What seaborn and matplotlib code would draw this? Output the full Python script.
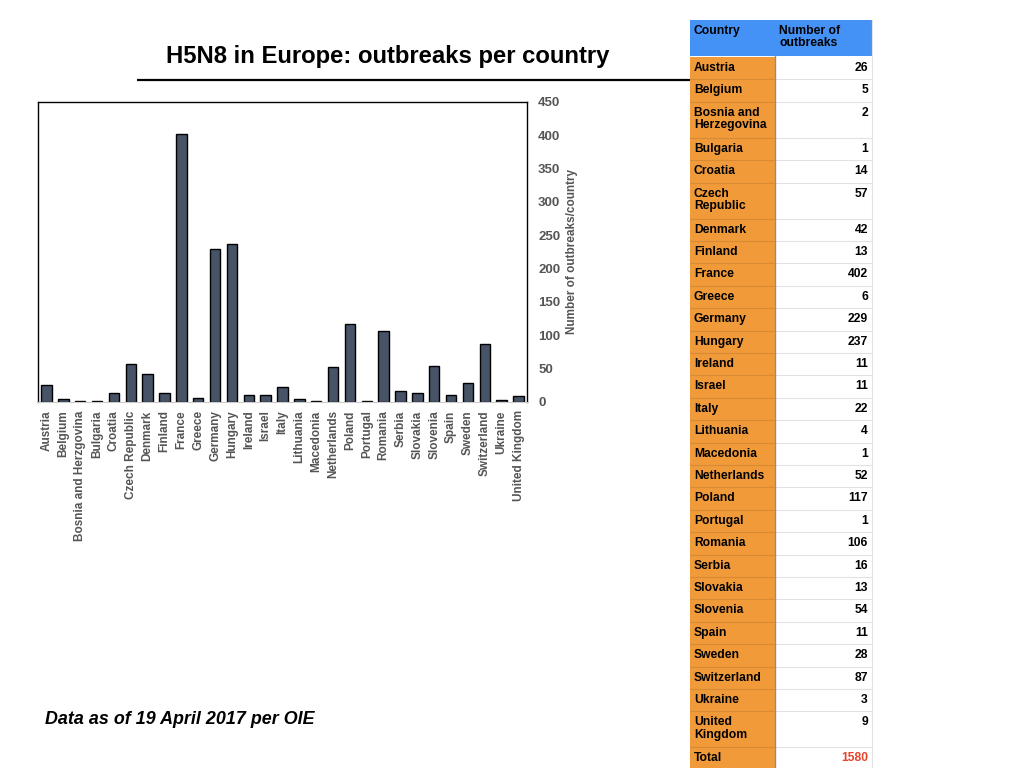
import matplotlib
matplotlib.use("Agg")
import matplotlib.pyplot as plt
from matplotlib.patches import Rectangle
import pandas as pd
import seaborn as sns

# chart data
chart_countries = ["Austria", "Belgium", "Bosnia and Herzgovina", "Bulgaria", "Croatia",
                   "Czech Republic", "Denmark", "Finland", "France", "Greece", "Germany",
                   "Hungary", "Ireland", "Israel", "Italy", "Lithuania", "Macedonia",
                   "Netherlands", "Poland", "Portugal", "Romania", "Serbia", "Slovakia",
                   "Slovenia", "Spain", "Sweden", "Switzerland", "Ukraine", "United Kingdom"]
outbreaks = [26, 5, 2, 1, 14, 57, 42, 13, 402, 6, 229, 237, 11, 11, 22, 4, 1,
             52, 117, 1, 106, 16, 13, 54, 11, 28, 87, 3, 9]
y_ticks = [0, 50, 100, 150, 200, 250, 300, 350, 400, 450]

# table labels (wrapped as in the source table)
table_names = ["Austria", "Belgium", "Bosnia and\nHerzegovina", "Bulgaria", "Croatia",
               "Czech\nRepublic", "Denmark", "Finland", "France", "Greece", "Germany",
               "Hungary", "Ireland", "Israel", "Italy", "Lithuania", "Macedonia",
               "Netherlands", "Poland", "Portugal", "Romania", "Serbia", "Slovakia",
               "Slovenia", "Spain", "Sweden", "Switzerland", "Ukraine", "United\nKingdom"]
total_label = "Total"
total_value = sum(outbreaks)

TITLE = "H5N8 in Europe: outbreaks per country"
FOOTNOTE = "Data as of 19 April 2017 per OIE"
YLABEL = "Number of outbreaks/country"

BAR_COLOR = "#475367"
GREY_TEXT = "#555555"
BLUE = "#4592f6"
ORANGE = "#f09a3a"

sns.set_style("white")
plt.rcParams["font.family"] = ["Liberation Sans", "DejaVu Sans"]
plt.rcParams["text.color"] = "black"

W, H = 1024, 768
fig = plt.figure(figsize=(W / 100, H / 100), dpi=100)

# background canvas in pixel coords for title, rule, table, footnote
bg = fig.add_axes([0, 0, 1, 1], zorder=0)
bg.set_xlim(0, W)
bg.set_ylim(H, 0)
bg.axis("off")

bg.text(388, 56, TITLE, ha="center", va="center", fontsize=17.2, fontweight="bold")
bg.plot([137, 690], [80, 80], color="black", lw=1.6, solid_capstyle="butt")
bg.text(45, 720, FOOTNOTE, ha="left", va="center", fontsize=12.9,
        fontweight="bold", fontstyle="italic")

# table
x0, x1, x2 = 690, 775, 872
FS = 8.7
bg.add_patch(Rectangle((x0, 20), x2 - x0, 36, color=BLUE, lw=0))
bg.text(x0 + 4, 25, "Country", ha="left", va="top", fontsize=FS, fontweight="bold")
bg.text(x1 + 4, 25, "Number of\noutbreaks", ha="left", va="top", fontsize=FS,
        fontweight="bold", linespacing=1.05, multialignment="left")

rows = list(zip(table_names, outbreaks)) + [(total_label, total_value)]
y = 57
for name, val in rows:
    h = 36 if "\n" in name else 22.4
    bg.add_patch(Rectangle((x0, y), x1 - x0, h, color=ORANGE, lw=0))
    bg.plot([x0, x1], [y + h, y + h], color="#d98a34", lw=0.8)
    bg.plot([x1, x2], [y + h, y + h], color="#e2e2e2", lw=0.8)
    bg.text(x0 + 4, y + 5, name, ha="left", va="top", fontsize=FS, fontweight="bold",
            linespacing=1.05, multialignment="left")
    color = "#e8432c" if name == total_label else "black"
    bg.text(x2 - 4, y + 5, str(val), ha="right", va="top", fontsize=FS,
            fontweight="bold", color=color)
    y += h
bg.plot([x1, x1], [56, H], color="#9a8a7a", lw=1)
bg.plot([x2, x2], [20, H], color="#e2e2e2", lw=0.8)

# bar chart
ax = fig.add_axes([38 / W, (H - 402) / H, (527 - 38) / W, 300 / H], zorder=1)
ax.patch.set_alpha(0)
df = pd.DataFrame({"country": chart_countries, "outbreaks": outbreaks})
sns.barplot(data=df, x="country", y="outbreaks", color=BAR_COLOR, saturation=1,
            edgecolor="black", linewidth=1, width=0.62, ax=ax)

ax.set_xlim(-0.5, len(chart_countries) - 0.5)
ax.set_ylim(0, 450)
ax.set_yticks(y_ticks)
ax.yaxis.tick_right()
ax.yaxis.set_label_position("right")
ax.tick_params(axis="y", length=0, pad=8, labelsize=9.5, labelcolor=GREY_TEXT)
for t in ax.get_yticklabels():
    t.set_fontweight("bold")
ax.set_ylabel(YLABEL, fontsize=8.5, fontweight="bold", color=GREY_TEXT, labelpad=4)
ax.set_xlabel("")

ax.set_xticks(range(len(chart_countries)))
ax.set_xticklabels(chart_countries, rotation=90, fontsize=8.5, color=GREY_TEXT,
                   fontweight="bold")
ax.set_xticks([i - 0.5 for i in range(len(chart_countries) + 1)], minor=True)
ax.tick_params(axis="x", which="major", length=0, pad=6)
ax.tick_params(axis="x", which="minor", length=4, color="#cccccc", width=0.8)

for side in ["top", "left", "right"]:
    ax.spines[side].set_color("black")
    ax.spines[side].set_linewidth(1)
ax.spines["bottom"].set_color("#cccccc")
ax.spines["bottom"].set_linewidth(0.8)

fig.savefig("out.png", dpi=100)
